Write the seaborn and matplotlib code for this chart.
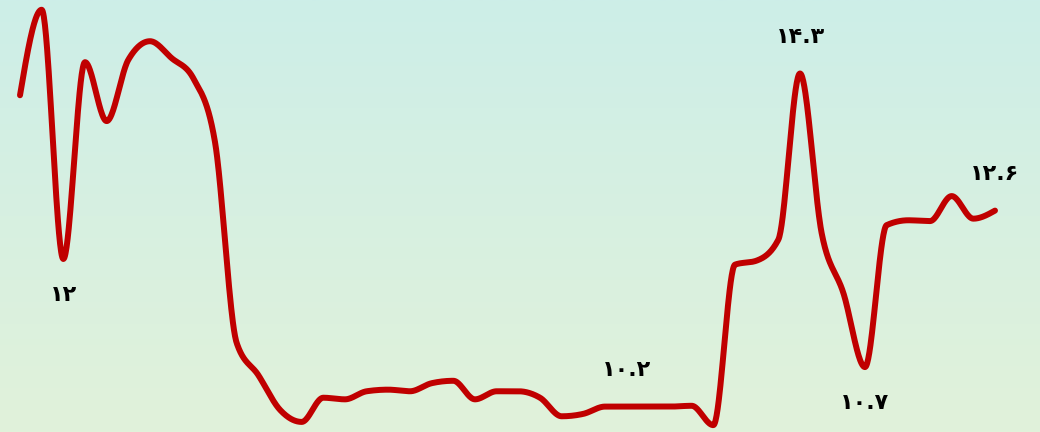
import numpy as np
import pandas as pd
import matplotlib
matplotlib.use("Agg")
import matplotlib.pyplot as plt
from matplotlib.colors import LinearSegmentedColormap
import seaborn as sns

# series values (one point per step)
values = [
    14.03, 15.09, 12.00, 14.44, 13.71, 14.47, 14.70, 14.49, 14.24, 13.45,
    10.96, 10.56, 10.13, 9.98, 10.28, 10.26, 10.36, 10.38, 10.36, 10.46,
    10.49, 10.26, 10.36, 10.36, 10.28, 10.05, 10.08, 10.17, 10.17, 10.17,
    10.17, 10.18, 9.94, 11.93, 11.98, 12.24, 14.30, 12.32, 11.58, 10.66,
    12.42, 12.48, 12.47, 12.78, 12.50, 12.60,
]
steps = list(range(len(values)))

# which points get a value label, and on which side
label_points = [2, 28, 36, 39, 45]
label_sides = ["below", "above", "above", "below", "above"]

line_color = "#c00000"
bg_top = "#cdeee8"
bg_bottom = "#e1f2da"

PERSIAN_DIGITS = str.maketrans("0123456789", "۰۱۲۳۴۵۶۷۸۹")


def fmt_fa(v):
    s = f"{v:.1f}"
    if s.endswith(".0"):
        s = s[:-2]
    return s.translate(PERSIAN_DIGITS)


def monotone_curve(x, y, n=40):
    # monotone cubic (same rule as d3 curveMonotoneX)
    x = np.asarray(x, float)
    y = np.asarray(y, float)
    h = np.diff(x)
    s = np.diff(y) / h
    m = np.zeros_like(y)
    for i in range(1, len(y) - 1):
        s0, s1 = s[i - 1], s[i]
        p = (s0 * h[i] + s1 * h[i - 1]) / (h[i - 1] + h[i])
        m[i] = (np.sign(s0) + np.sign(s1)) * min(abs(s0), abs(s1), 0.5 * abs(p))
    m[0] = (3 * s[0] - m[1]) / 2
    m[-1] = (3 * s[-1] - m[-2]) / 2
    xs, ys = [], []
    for i in range(len(y) - 1):
        t = np.linspace(0, 1, n, endpoint=(i == len(y) - 2))
        h00 = 2 * t**3 - 3 * t**2 + 1
        h10 = t**3 - 2 * t**2 + t
        h01 = -2 * t**3 + 3 * t**2
        h11 = t**3 - t**2
        xs.append(x[i] + t * h[i])
        ys.append(h00 * y[i] + h10 * h[i] * m[i] + h01 * y[i + 1] + h11 * h[i] * m[i + 1])
    return np.concatenate(xs), np.concatenate(ys)


sns.set_theme(style="white")
plt.rcParams["font.family"] = ["DejaVu Sans"]

fig = plt.figure(figsize=(10.4, 4.32), dpi=100)
ax = fig.add_axes([0, 0, 1, 1])

xlim = (-0.923, 47.077)
ylim = (9.855, 15.211)

# gradient background
cmap = LinearSegmentedColormap.from_list("bg", [bg_bottom, bg_top])
grad = np.linspace(0, 1, 256).reshape(-1, 1)
ax.imshow(grad, extent=[xlim[0], xlim[1], ylim[0], ylim[1]], origin="lower",
          aspect="auto", cmap=cmap, zorder=0)

cx, cy = monotone_curve(steps, values)
df = pd.DataFrame({"step": cx, "value": cy})
sns.lineplot(data=df, x="step", y="value", ax=ax, color=line_color,
             linewidth=4.3, sort=False, estimator=None, zorder=2)
for line in ax.lines:
    line.set_solid_capstyle("round")
    line.set_solid_joinstyle("round")

for idx, side in zip(label_points, label_sides):
    off = 26 if side == "above" else -26
    ax.annotate(fmt_fa(values[idx]), (steps[idx], values[idx]),
                xytext=(0, off), textcoords="offset points",
                ha="center", va="center", fontsize=16, fontweight="bold",
                color="#000000", zorder=3)

ax.set_xlim(*xlim)
ax.set_ylim(*ylim)
ax.set_axis_off()

fig.savefig("out.png", dpi=100)
plt.close(fig)
